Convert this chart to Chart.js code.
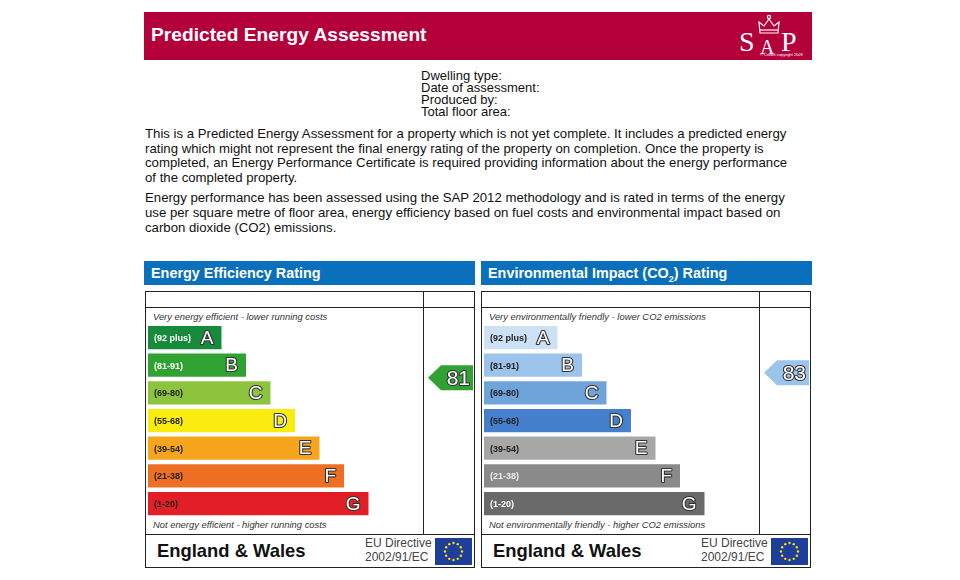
<!DOCTYPE html>
<html>
<head>
<meta charset="utf-8">
<script src="https://cdn.jsdelivr.net/npm/chart.js@4.4.1/dist/chart.umd.min.js"></script>
<style>
  body { margin: 0; width: 960px; height: 580px; background: #fff; position: relative; overflow: hidden;
         font-family: "Liberation Sans", Arial, sans-serif; color: #111; }
  .abs { position: absolute; }
  #hdr { left: 144px; top: 12px; width: 668px; height: 48px; background: #b4003a; }
  #hdr .t { position: absolute; left: 7px; top: 0; line-height: 46px; font-size: 19.2px; font-weight: bold; color: #fff; }
  .sap { position: absolute; font-family: "Liberation Serif", "DejaVu Serif", serif; color: #fff; }
  #dwell { left: 421px; top: 70px; font-size: 13px; line-height: 12px; }
  #intro { left: 145px; top: 127px; width: 720px; font-size: 13.2px; line-height: 14.6px; }
  #intro p { margin: 0 0 6px 0; }
  .ptitle { height: 24px; width: 331px; background: #0a70bc; color: #fff; font-weight: bold; font-size: 14.4px;
            line-height: 24px; padding-left: 7px; box-sizing: border-box; top: 261px; }
  .pbox { top: 291px; width: 330px; height: 277px; border: 1px solid #222; box-sizing: border-box; }
  .hl { height: 0; border-top: 1px solid #222; }
  .vl { width: 0; border-left: 1px solid #222; }
  .note { font-size: 9.4px; font-style: italic; color: #333; white-space: nowrap; }
  .ew { font-size: 18.4px; font-weight: bold; top: 540px; }
  .eu { font-size: 12px; line-height: 14px; color: #444; top: 536px; }
  canvas { position: absolute; }
</style>
</head>
<body>
<div id="hdr" class="abs">
  <div class="t">Predicted Energy Assessment</div>
  <svg class="abs" style="left:612px;top:2px" width="26" height="22" viewBox="0 0 26 22">
    <g fill="none" stroke="#fff" stroke-width="1.2">
      <path d="M4 19 L3 8 L8 12 L13 5 L18 12 L23 8 L22 19 Z"/>
      <line x1="4" y1="16" x2="22" y2="16"/>
      <circle cx="13" cy="3" r="1.6"/>
    </g>
  </svg>
  <div class="sap" style="left:595px;top:14px;font-size:28px">S</div>
  <div class="sap" style="left:616px;top:24px;font-size:20px">A</div>
  <div class="sap" style="left:637px;top:14px;font-size:28px">P</div>
  <div class="abs" style="left:616px;top:40px;font-size:4px;color:#fff">© Crown copyright 2009</div>
</div>

<div id="dwell" class="abs">Dwelling type:<br>Date of assessment:<br>Produced by:<br>Total floor area:</div>

<div id="intro" class="abs">
  <p>This is a Predicted Energy Assessment for a property which is not yet complete. It includes a predicted energy<br>
  rating which might not represent the final energy rating of the property on completion. Once the property is<br>
  completed, an Energy Performance Certificate is required providing information about the energy performance<br>
  of the completed property.</p>
  <p>Energy performance has been assessed using the SAP 2012 methodology and is rated in terms of the energy<br>
  use per square metre of floor area, energy efficiency based on fuel costs and environmental impact based on<br>
  carbon dioxide (CO2) emissions.</p>
</div>

<!-- left panel -->
<div class="abs ptitle" style="left:144px">Energy Efficiency Rating</div>
<div class="abs pbox" style="left:145px"></div>
<div class="abs hl" style="left:145px;top:307px;width:330px"></div>
<div class="abs hl" style="left:145px;top:534px;width:330px"></div>
<div class="abs vl" style="left:423px;top:291px;height:244px"></div>
<div class="abs note" style="left:153px;top:311px">Very energy efficient - lower running costs</div>
<div class="abs note" style="left:153px;top:519px">Not energy efficient - higher running costs</div>
<div class="abs ew" style="left:157px">England &amp; Wales</div>
<div class="abs eu" style="left:365px">EU Directive<br>2002/91/EC</div>
<svg class="abs flag" style="left:435px;top:538px" width="37" height="27"></svg>
<canvas id="eeChart" style="left:145px;top:308px"></canvas>

<!-- right panel -->
<div class="abs ptitle" style="left:481px">Environmental Impact (CO<sub style="font-size:9px;line-height:0">2</sub>) Rating</div>
<div class="abs pbox" style="left:481px"></div>
<div class="abs hl" style="left:481px;top:307px;width:330px"></div>
<div class="abs hl" style="left:481px;top:534px;width:330px"></div>
<div class="abs vl" style="left:759px;top:291px;height:244px"></div>
<div class="abs note" style="left:489px;top:311px">Very environmentally friendly - lower CO2 emissions</div>
<div class="abs note" style="left:489px;top:519px">Not environmentally friendly - higher CO2 emissions</div>
<div class="abs ew" style="left:493px">England &amp; Wales</div>
<div class="abs eu" style="left:701px">EU Directive<br>2002/91/EC</div>
<svg class="abs flag" style="left:771px;top:538px" width="37" height="27"></svg>
<canvas id="eiChart" style="left:481px;top:308px"></canvas>

<script>
// bands, top (best) to bottom (worst)
const bands = ["A", "B", "C", "D", "E", "F", "G"];
const bandRanges = ["(92 plus)", "(81-91)", "(69-80)", "(55-68)", "(39-54)", "(21-38)", "(1-20)"];
const bandMin = [92, 81, 69, 55, 39, 21, 1];
const bandMax = [100, 91, 80, 68, 54, 38, 20];
const barLengths = [3, 4, 5, 6, 7, 8, 9];

const eeColors = ["#188a3c", "#2fa232", "#8cc43e", "#fbec10", "#f6a51d", "#ec6f24", "#e21e26"];
const eeLabelColors = ["#fff", "#fff", "#222", "#222", "#222", "#222", "#222"];
const eiColors = ["#cde1f4", "#9cc3ea", "#6fa4da", "#4480cb", "#a7a7a7", "#8a8a8a", "#6a6a6a"];
const eiLabelColors = ["#222", "#222", "#222", "#222", "#222", "#eee", "#fff"];

const eeRating = 81;
const eiRating = 83;

// EU flag
document.querySelectorAll("svg.flag").forEach(svg => {
  let s = '<rect width="37" height="27" fill="#1d3f99"/>';
  for (let k = 0; k < 12; k++) {
    const a = k * Math.PI / 6;
    s += '<circle cx="' + (18.5 + 8.5 * Math.cos(a)).toFixed(2) + '" cy="' + (13.5 + 8.5 * Math.sin(a)).toFixed(2) + '" r="1.2" fill="#ffde00"/>';
  }
  svg.innerHTML = s;
});

// rating -> fractional band index on the category axis
function ratingPos(r) {
  let i = bandMin.findIndex(m => r >= m);
  if (i < 0) i = bands.length - 1;
  return i - 0.5 + (bandMax[i] + 0.5 - r) / (bandMax[i] - bandMin[i] + 1);
}

function outlined(ctx, txt, x, y) {
  ctx.strokeStyle = "#333";
  ctx.lineWidth = 2.2;
  ctx.lineJoin = "round";
  ctx.strokeText(txt, x, y);
  ctx.fillStyle = "#fff";
  ctx.fillText(txt, x, y);
}

const epcPlugin = {
  id: "epc",
  afterDatasetsDraw(chart, args, opts) {
    const ctx = chart.ctx;
    const meta = chart.getDatasetMeta(0);
    ctx.save();
    ctx.textBaseline = "middle";
    meta.data.forEach((bar, i) => {
      ctx.font = 'bold 9px "Liberation Sans", Arial, sans-serif';
      ctx.textAlign = "left";
      ctx.fillStyle = opts.labelColors[i];
      ctx.fillText(bandRanges[i], bar.base + 6, bar.y + 1);

      ctx.font = '19px "Liberation Sans", Arial, sans-serif';
      ctx.textAlign = "right";
      outlined(ctx, bands[i], bar.x - 8, bar.y + 1);
    });

    // rating arrow in the right-hand column
    const r = opts.rating;
    const y = chart.scales.y.getPixelForValue(ratingPos(r));
    const bi = bandMin.findIndex(m => r >= m);
    const tip = chart.width - 46, end = chart.width - 1, h = 12.5;
    ctx.fillStyle = opts.colors[bi];
    ctx.beginPath();
    ctx.moveTo(tip, y);
    ctx.lineTo(tip + 13, y - h);
    ctx.lineTo(end, y - h);
    ctx.lineTo(end, y + h);
    ctx.lineTo(tip + 13, y + h);
    ctx.closePath();
    ctx.fill();
    ctx.font = '21px "Liberation Sans", Arial, sans-serif';
    ctx.textAlign = "right";
    outlined(ctx, String(r), end - 3, y + 1);
    ctx.restore();
  }
};

function makeChart(id, colors, labelColors, rating) {
  const canvas = document.getElementById(id);
  canvas.width = 329;
  canvas.height = 227;
  return new Chart(canvas, {
    type: "bar",
    data: {
      labels: bands,
      datasets: [{
        data: barLengths,
        backgroundColor: colors,
        borderWidth: 0,
        barPercentage: 0.84,
        categoryPercentage: 1
      }]
    },
    options: {
      indexAxis: "y",
      responsive: false,
      animation: false,
      events: [],
      layout: { padding: { left: 3, right: 56.5, top: 15.7, bottom: 17.6 } },
      scales: {
        x: { display: false, min: 0, max: 11 },
        y: { display: false }
      },
      plugins: {
        legend: { display: false },
        tooltip: { enabled: false },
        epc: { colors: colors, labelColors: labelColors, rating: rating }
      }
    },
    plugins: [epcPlugin]
  });
}

makeChart("eeChart", eeColors, eeLabelColors, eeRating);
makeChart("eiChart", eiColors, eiLabelColors, eiRating);
</script>
</body>
</html>
